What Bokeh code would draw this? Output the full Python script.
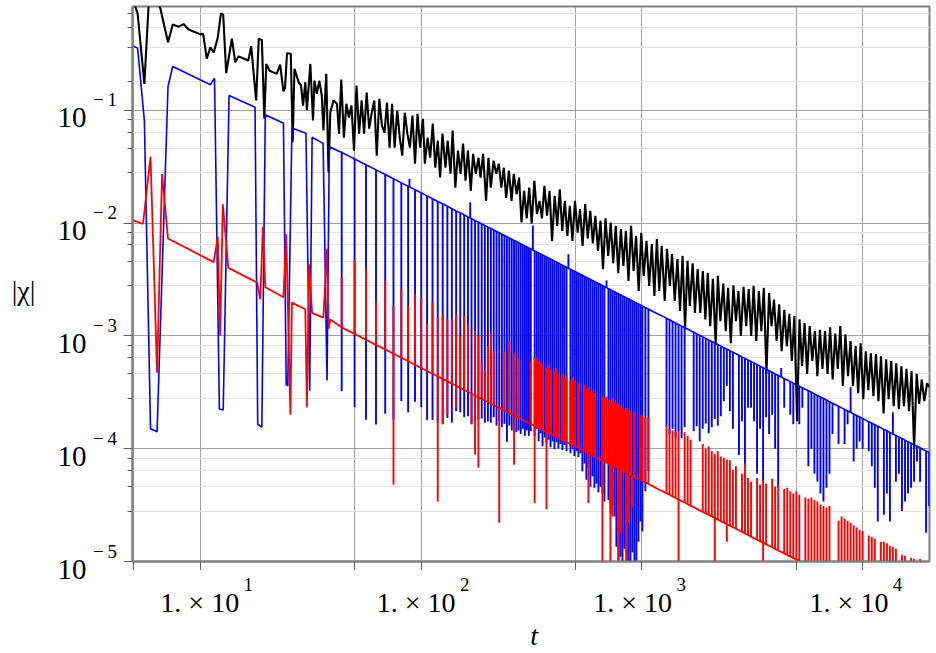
import math
from bokeh.plotting import figure
from bokeh.layouts import row, column
from bokeh.models import Range1d, FixedTicker, LogScale, CustomJSTickFormatter
from bokeh.core.properties import value
from bokeh.embed import file_html
from bokeh.resources import INLINE

# ---------------- data ----------------
# |chi| for the three runs against time t (log-log)

black_t = [
    4.95, 5.2, 5.58, 5.9, 6.25, 6.59, 7.14, 7.5, 7.98, 8.4,
    8.85, 9.5, 10.0, 10.3, 10.7, 11.1, 11.5, 12.0, 12.4, 12.7,
    13.1, 13.9, 14.4, 14.9, 16.5, 17.0, 17.9, 18.4, 19.0, 19.5,
    19.9, 20.6, 22.2, 23.0, 23.8, 24.2, 24.7, 25.7, 26.2, 26.7,
    27.9, 28.6, 29.2, 29.9, 30.4, 31.5, 32.4, 32.9, 33.7, 34.6,
    35.5, 36.1, 37.2, 38.1, 38.8, 40.1, 41.6, 42.5,
    43.5, 44.7, 45.9, 47.1, 48.4, 49.7, 51.0, 52.4, 53.8, 55.2,
    56.7, 58.2, 59.8, 61.4, 63.0, 64.7, 66.5, 68.3, 70.1, 72.0,
    73.9, 75.9, 78.0, 80.1, 82.2, 84.4, 86.7, 89.0, 91.4, 93.9,
    96.4, 99.0, 102, 104, 107, 110, 113, 116, 119, 122,
    125, 129, 132, 136, 139, 143, 147, 151, 155, 159,
    163, 168, 172, 177, 182, 186, 191, 197, 202, 207,
    213, 219, 225, 231, 237, 243, 250, 257, 263, 271,
    278, 285, 293, 301, 309, 317, 326, 335, 344, 353,
    362, 372, 382, 392, 403, 414, 425, 436, 448, 460,
    472, 485, 498, 512, 525, 539, 554, 569, 584, 600,
    616, 633, 650, 667, 685, 704, 723, 742, 762, 782,
    804, 825, 847, 870, 894, 918, 942, 968, 994, 1020,
    1050, 1080, 1110, 1140, 1170, 1200, 1230, 1270, 1300, 1340,
    1370, 1410, 1450, 1490, 1530, 1570, 1610, 1650, 1700, 1740,
    1790, 1840, 1890, 1940, 1990, 2040, 2100, 2160, 2210, 2270,
    2340, 2400, 2460, 2530, 2600, 2670, 2740, 2810, 2890, 2970,
    3050, 3130, 3210, 3300, 3390, 3480, 3570, 3670, 3770, 3870,
    3970, 4080, 4190, 4300, 4420, 4540, 4660, 4780, 4910, 5050,
    5180, 5320, 5460, 5610, 5760, 5920, 6080, 6240, 6410, 6580,
    6760, 6940, 7130, 7320, 7520, 7720, 7930, 8140, 8360, 8590,
    8820, 9050, 9300, 9550, 9800, 10070, 10340, 10620, 10900, 11200,
    11500, 11800, 12120, 12450, 12780, 13130, 13480, 13840, 14210, 14600,
    14990, 15390, 15810, 16230, 16670, 17120, 17580, 18050, 18540, 19040,
    19600, 20100,
]
black_v = [
    0.95, 0.72, 0.171, 1.3, 1.05, 0.8, 0.40, 0.575, 0.55, 0.58,
    0.52, 0.49, 0.47, 0.475, 0.286, 0.36, 0.325, 0.44, 0.72, 0.70,
    0.213, 0.43, 0.266, 0.30, 0.276, 0.37, 0.122, 0.43, 0.42, 0.084,
    0.257, 0.224, 0.21, 0.254, 0.147, 0.158, 0.32, 0.316, 0.052, 0.233,
    0.177, 0.165, 0.11, 0.177, 0.10, 0.257, 0.081, 0.183, 0.14, 0.183,
    0.135, 0.066, 0.21, 0.028, 0.096, 0.122, 0.114, 0.062,
    0.187, 0.057, 0.114, 0.086, 0.110, 0.0438, 0.165, 0.062, 0.122, 0.062,
    0.143, 0.0686, 0.095, 0.122, 0.0395, 0.126, 0.073, 0.0633, 0.117, 0.0466,
    0.114, 0.0466, 0.099, 0.057, 0.0395, 0.095, 0.062, 0.0466, 0.0896, 0.0336,
    0.093, 0.0466, 0.084, 0.0336, 0.057, 0.0379, 0.076, 0.0309, 0.0537, 0.0253,
    0.062, 0.0309, 0.0537, 0.0273, 0.0659, 0.0206, 0.0438, 0.0273, 0.0506, 0.0237,
    0.0438, 0.0193, 0.041, 0.0273, 0.0379, 0.0253, 0.041, 0.0157, 0.0379, 0.0206,
    0.0357, 0.0273, 0.0336, 0.0206, 0.0309, 0.0167, 0.0291, 0.0157, 0.0273, 0.018,
    0.0253, 0.0101, 0.0193, 0.011, 0.0206, 0.0099, 0.0237, 0.012, 0.0157, 0.011,
    0.0214, 0.0116, 0.0193, 0.00695, 0.0174, 0.00944, 0.0199, 0.00852, 0.0157, 0.00769,
    0.0142, 0.00695, 0.0157, 0.0082, 0.0133, 0.00627, 0.0147, 0.0073, 0.0128, 0.0066,
    0.0116, 0.00566, 0.0105, 0.0039, 0.011, 0.00511, 0.0101, 0.0044, 0.00944, 0.0036,
    0.00885, 0.00417, 0.00852, 0.00307, 0.00944, 0.00376, 0.00769, 0.0025, 0.0082, 0.0034,
    0.00695, 0.00277, 0.0065, 0.00226, 0.0072, 0.0025, 0.00627, 0.00204, 0.0059, 0.00277,
    0.0053, 0.00204, 0.0048, 0.00166, 0.00511, 0.00115, 0.00462, 0.00184, 0.0044, 0.0016,
    0.0039, 0.0016, 0.00376, 0.0014, 0.0036, 0.00122, 0.0032, 0.00083, 0.0034, 0.00135,
    0.0029, 0.0011, 0.00266, 0.00086, 0.0028, 0.00135, 0.0025, 0.001, 0.00272, 0.00122,
    0.0026, 0.001, 0.00277, 0.0009, 0.0025, 0.0011, 0.00266, 0.00046, 0.0024, 0.00122,
    0.0021, 0.0009, 0.0019, 0.00073, 0.0017, 0.00081, 0.00157, 0.0006, 0.0015, 0.000175,
    0.0014, 0.00054, 0.0013, 0.00046, 0.00122, 0.0006, 0.0011, 0.00044, 0.00113, 0.00051,
    0.0011, 0.00046, 0.00119, 0.00041, 0.00105, 0.00051, 0.00122, 0.00036, 0.00103, 0.00044,
    0.0009, 0.00036, 0.00081, 0.00031, 0.00086, 0.000275, 0.00073, 0.00033, 0.0007, 0.000292,
    0.00069, 0.000264, 0.00066, 0.000205, 0.00062, 0.000275, 0.000597, 0.000238, 0.00057, 0.000225,
    0.00054, 0.000238, 0.00051, 0.000215, 0.000487, 0.0001, 0.00046, 0.00025, 0.00041, 0.000264,
    0.00038, 0.00035,
]

# early part of the blue and red curves (wide dips / spikes)
blue_t0 = [4.95, 5.2, 5.58, 5.95, 6.37, 7.14, 7.5, 11.1, 11.6, 12.2,
           12.7, 13.5, 17.7, 18.2, 19.0, 19.7, 23.8, 24.5, 24.9, 26.0,
           30.1, 31.3, 32.1, 36.0, 37.5, 38.4, 42.7]
blue_v0 = [0.37, 0.355, 0.081, 1.5e-4, 1.41e-4, 0.162, 0.244, 0.168, 0.192, 2.25e-4,
           2.2e-4, 0.135, 0.106, 1.64e-4, 1.55e-4, 0.091, 0.0765, 3.7e-4, 3.6e-4, 0.0697,
           0.0624, 3.28e-4, 0.0575, 0.0508, 4.03e-4, 0.0475, 0.0431]
red_t0 = [4.95, 5.5, 5.95, 6.37, 6.71, 7.14, 11.5, 12.0, 12.3, 12.65,
          13.4, 18.1, 18.7, 19.2, 19.7, 23.8, 24.5, 25.6, 26.0, 29.9,
          30.4, 31.1, 32.1, 36.1, 37.5, 38.1, 38.8, 42.8]
red_v0 = [0.0106, 0.0098, 0.0387, 4.7e-4, 0.0272, 7.3e-3, 4.5e-3, 7.6e-3, 1.0e-3, 0.0147,
          4.0e-3, 2.96e-3, 2.1e-3, 9.2e-3, 2.7e-3, 2.2e-3, 8.0e-3, 2.0e-4, 1.97e-3, 1.72e-3,
          2.33e-4, 4.3e-3, 1.6e-3, 1.45e-3, 5.9e-3, 1.15e-3, 1.4e-3, 1.22e-3]

# later part: sample times, the smooth blue envelope / red baseline,
# and the narrow spike reached at each sample (None = no spike)
comb_t = [
    43.7, 50.0, 56.3, 62.5, 68.8, 75.0, 81.4, 87.4, 88.6, 93.9,
    100.2, 106.5, 112.7, 119.0, 125.3, 131.6, 137.9, 144.2, 150.5, 156.8,
    163.1, 167.0, 169.3, 175.6, 181.9, 188.2, 194.5, 200.8,
    207.1, 213.4, 219.7, 226.0, 232.3, 238.6, 244.9, 251.2, 257.5, 263.8,
    270.0, 276.4, 282.7, 289.0, 295.3, 301.6, 307.9,
    314, 321, 327, 334, 341, 348, 355, 363, 370, 378,
    386, 394, 402, 411, 419, 428, 437, 446, 456, 465,
    475, 485, 495, 506, 516, 527, 538, 550, 561, 573,
    585, 598, 610, 623, 636, 650, 663, 677, 692, 706,
    721, 736, 752, 767, 784, 800, 817, 834, 852, 870,
    888, 907, 926, 945, 965, 986, 1006,
    1038, 1071, 1105, 1141, 1177, 1215, 1254, 1294, 1335, 1378,
    1422, 1467, 1514, 1563, 1613, 1664, 1718, 1773, 1829, 1888,
    1948, 2010, 2075, 2141, 2209, 2280, 2353, 2428, 2506, 2586,
    2669, 2754, 2842, 2933, 3027, 3124, 3224, 3327, 3433, 3543,
    3656, 3773, 3894, 4018, 4147, 4279, 4416, 4558, 4703, 4854,
    5009, 5169, 5335, 5505, 5681, 5863, 6051, 6244, 6444, 6650,
    6863, 7082, 7309, 7543, 7784, 8033, 8290, 8556, 8829, 9112,
    9403, 9704, 10010, 10340, 10670, 11010, 11360, 11720, 12100, 12490,
    12890, 13300, 13720, 14160, 14620, 15080, 15570, 16060, 16580, 17110,
    17650, 18220, 18800, 19400, 20020,
]
blue_env = [
    0.0423, 0.037, 0.0329, 0.0296, 0.0269, 0.0247, 0.0227, 0.0212, 0.0209, 0.0197,
    0.0185, 0.0174, 0.0164, 0.0155, 0.0148, 0.0141, 0.0134, 0.0128, 0.0123, 0.0118,
    0.0113, 0.0111, 0.0109, 0.0105, 0.0102, 0.0098, 0.0095, 0.0092,
    0.00893, 0.00867, 0.00842, 0.00819, 0.00796, 0.00775, 0.00755, 0.00736, 0.00718, 0.00701,
    0.00685, 0.00669, 0.00654, 0.0064, 0.00626, 0.00613, 0.00601,
    0.00589, 0.00576, 0.00566, 0.00554, 0.00543, 0.00532, 0.00521, 0.0051, 0.005, 0.00489,
    0.00479, 0.0047, 0.0046, 0.0045, 0.00442, 0.00432, 0.00423, 0.00415, 0.00406, 0.00398,
    0.0039, 0.00381, 0.00374, 0.00366, 0.00359, 0.00351, 0.00344, 0.00336, 0.0033, 0.00323,
    0.00316, 0.00309, 0.00303, 0.00297, 0.00291, 0.00285, 0.00279, 0.00273, 0.00267, 0.00262,
    0.00257, 0.00251, 0.00246, 0.00241, 0.00236, 0.00231, 0.00226, 0.00222, 0.00217, 0.00213,
    0.00208, 0.00204, 0.002, 0.00196, 0.00192, 0.00188, 0.00184,
    0.00178, 0.00173, 0.00167, 0.00162, 0.00157, 0.00152, 0.00148, 0.00143, 0.00139, 0.00134,
    0.0013, 0.00126, 0.00122, 0.00118, 0.00115, 0.00111, 0.00108, 0.00104, 0.00101, 0.00098,
    0.00095, 0.00092, 0.00089, 0.000864, 0.000837, 0.000811, 0.000786, 0.000762, 0.000738, 0.000715,
    0.000693, 0.000672, 0.000651, 0.000631, 0.000611, 0.000592, 0.000574, 0.000556, 0.000539, 0.000522,
    0.000506, 0.00049, 0.000475, 0.00046, 0.000446, 0.000432, 0.000419, 0.000406, 0.000393, 0.000381,
    0.000369, 0.000358, 0.000347, 0.000336, 0.000326, 0.000316, 0.000306, 0.000296, 0.000287, 0.000278,
    0.00027, 0.000261, 0.000253, 0.000245, 0.000238, 0.00023, 0.000223, 0.000216, 0.00021, 0.000203,
    0.000197, 0.000191, 0.000185, 0.000179, 0.000173, 0.000168, 0.000163, 0.000158, 0.000153, 0.000148,
    0.000144, 0.000139, 0.000135, 0.000131, 0.000127, 0.000123, 0.000119, 0.000115, 0.000112, 0.000108,
    0.000105, 0.000102, 9.84e-5, 9.54e-5, 9.24e-5,
]
blue_tip = [
    3.24e-4, 2.33e-4, 1.8e-4, 1.64e-4, 2.04e-4, 1.81e-4, 2.64e-4, 2.1e-4, 0.0245, 2.6e-4,
    2.33e-4, 1.8e-4, 1.8e-4, 1.7e-4, 1.66e-4, 1.87e-4, 1.7e-4, 2.15e-4, 2.1e-4, 1.9e-4,
    1.94e-4, 0.0153, 1.66e-4, 1.75e-4, 1.81e-4, 1.85e-4, 1.7e-4, 1.75e-4,
    1.7e-4, 1.9e-4, 1.6e-4, 1.75e-4, 1.55e-4, 1.66e-4, 1.15e-4, 1.6e-4, 1.45e-4, 1.5e-4,
    1.4e-4, 1.45e-4, 1.35e-4, 1.5e-4, 1.3e-4, 1.45e-4, 1.3e-4,
    1.43e-4, 0.0095, 1.29e-4, 1.5e-4, 1.16e-4, 1.37e-4, 1.05e-4, 1.26e-4, 1.11e-4, 1.2e-4,
    1.03e-4, 1.16e-4, 9.9e-5, 1.14e-4, 1.0e-4, 1.1e-4, 9.7e-5, 1.08e-4, 9.5e-5, 0.0053,
    9.1e-5, 9.9e-5, 8.6e-5, 9.5e-5, 8.4e-5, 9.1e-5, 6.3e-5, 7.4e-5, 5.3e-5, 6.7e-5,
    4.6e-5, 5.7e-5, 4.5e-5, 4.9e-5, 4.1e-5, 4.6e-5, 4.0e-5, 3.4e-5, 0.0031, 3.5e-5,
    2.7e-5, 3.1e-5, 2.5e-5, 1.35e-5, 6.6e-6, 1.1e-5, 4.4e-6, 1.3e-5, 5.4e-6, 8.1e-6,
    4.4e-6, 1.2e-5, 6e-6, 1.0e-5, 1.5e-5, 2.26e-5, 1.84e-5,
    4.2e-5, 6.3e-5, None, None, None, None, None, 1.58e-4, 1.34e-4, 1.5e-4,
    1.26e-4, 1.43e-4, 1.24e-4, 1.55e-4, None, None, 1.43e-4, 1.58e-4, 1.16e-4, 1.5e-4,
    1.67e-4, 1.37e-4, 1.55e-4, 1.83e-4, 1.6e-4, 1.94e-4, 2.64e-4, 3.6e-4, 2.15e-4, 1.5e-4,
    None, 8.8e-5, 1.75e-4, 7e-5, 2.3e-4, 2.3e-4, 1.75e-4, 6e-5, 1.5e-4, 5.1e-5,
    1.9e-4, 1.35e-4, 2e-4, 1.0e-4, 4.5e-5, 5.2e-4, 2.3e-4, None, 2e-4, 1.65e-4,
    None, 1.65e-4, 2.3e-4, None, 7e-5, 1.0e-4, 6e-5, 5.1e-5, 4e-5, 3.4e-5,
    4.5e-5, 6e-5, 1.35e-4, None, 1.1e-4, None, 1.1e-4, 1.65e-4, 3.5e-4, 7.7e-5,
    1.0e-4, 1.16e-4, 1.0e-4, None, 9.5e-5, 7e-5, 4.5e-5, 2.26e-5, None, 2.6e-5,
    4e-5, 2.26e-5, 2.1e-4, 5.1e-5, 6e-5, 2.8e-5, 3.4e-5, 4e-5, 4.5e-5, 5.1e-5,
    7.7e-5, 5.1e-5, None, 1.8e-5, 3.1e-5,
]
red_base = [
    1.19e-3, 1.04e-3, 9.24e-4, 8.32e-4, 7.56e-4, 6.93e-4, 6.39e-4, 5.95e-4, 5.87e-4, 5.54e-4,
    5.19e-4, 4.88e-4, 4.61e-4, 4.37e-4, 4.15e-4, 3.95e-4, 3.77e-4, 3.61e-4, 3.46e-4, 3.32e-4,
    3.19e-4, 3.11e-4, 3.07e-4, 2.96e-4, 2.86e-4, 2.76e-4, 2.67e-4, 2.59e-4,
    2.51e-4, 2.44e-4, 2.37e-4, 2.3e-4, 2.24e-4, 2.18e-4, 2.12e-4, 2.07e-4, 2.02e-4, 1.97e-4,
    1.93e-4, 1.88e-4, 1.84e-4, 1.8e-4, 1.76e-4, 1.72e-4, 1.69e-4,
    1.66e-4, 1.62e-4, 1.59e-4, 1.56e-4, 1.52e-4, 1.49e-4, 1.46e-4, 1.43e-4, 1.41e-4, 1.38e-4,
    1.35e-4, 1.32e-4, 1.29e-4, 1.27e-4, 1.24e-4, 1.21e-4, 1.19e-4, 1.17e-4, 1.14e-4, 1.12e-4,
    1.09e-4, 1.07e-4, 1.05e-4, 1.03e-4, 1.01e-4, 9.87e-5, 9.67e-5, 9.45e-5, 9.27e-5, 9.08e-5,
    8.89e-5, 8.7e-5, 8.52e-5, 8.35e-5, 8.18e-5, 8.0e-5, 7.84e-5, 7.68e-5, 7.51e-5, 7.37e-5,
    7.21e-5, 7.07e-5, 6.91e-5, 6.78e-5, 6.63e-5, 6.5e-5, 6.36e-5, 6.24e-5, 6.1e-5, 5.98e-5,
    5.86e-5, 5.73e-5, 5.62e-5, 5.5e-5, 5.39e-5, 5.27e-5, 5.17e-5,
    5.01e-5, 4.86e-5, 4.71e-5, 4.56e-5, 4.42e-5, 4.28e-5, 4.15e-5, 4.02e-5, 3.9e-5, 3.77e-5,
    3.66e-5, 3.54e-5, 3.43e-5, 3.33e-5, 3.22e-5, 3.13e-5, 3.03e-5, 2.93e-5, 2.84e-5, 2.75e-5,
    2.67e-5, 2.59e-5, 2.51e-5, 2.43e-5, 2.35e-5, 2.28e-5, 2.21e-5, 2.14e-5, 2.08e-5, 2.01e-5,
    1.95e-5, 1.89e-5, 1.83e-5, 1.77e-5, 1.72e-5, 1.66e-5, 1.61e-5, 1.56e-5, 1.51e-5, 1.47e-5,
    1.42e-5, 1.38e-5, 1.34e-5, 1.29e-5, 1.25e-5, 1.22e-5, 1.18e-5, 1.14e-5, 1.11e-5, 1.07e-5,
    1.04e-5, 1.01e-5, 9.75e-6, 9.45e-6, 9.15e-6, 8.87e-6, 8.59e-6, 8.33e-6, 8.07e-6, 7.82e-6,
    7.58e-6, 7.34e-6, 7.11e-6, 6.89e-6, 6.68e-6, 6.47e-6, 6.27e-6, 6.08e-6, 5.89e-6, 5.71e-6,
    5.53e-6, 5.36e-6, 5.19e-6, 5.03e-6, 4.87e-6, 4.72e-6, 4.58e-6, 4.44e-6, 4.3e-6, 4.16e-6,
    4.03e-6, 3.91e-6, 3.79e-6, 3.67e-6, 3.56e-6, 3.45e-6, 3.34e-6, 3.24e-6, 3.14e-6, 3.04e-6,
    2.95e-6, 2.85e-6, 2.77e-6, 2.68e-6, 2.6e-6,
]
red_up = [
    3.3e-3, 4.7e-3, 4.0e-3, 2.0e-3, 3.07e-3, 1.84e-3, 2.6e-3, 1.84e-3, None, 2.36e-3,
    2.2e-3, 1.27e-3, 1.97e-3, 1.45e-3, 1.55e-3, 1.4e-3, 1.4e-3, 1.55e-3, 1.0e-3, 1.5e-3,
    1.27e-3, None, None, 1.1e-3, 1.0e-3, 6e-4, 4.9e-4, 8.1e-4,
    1.07e-3, 7.3e-4, None, None, None, 7.3e-4, None, 9e-4, None, 7.1e-4,
    None, 6.4e-4, None, None, None, None, None,
    6.0e-4, None, 6.4e-4, 6.4e-4, 6.0e-4, 5.8e-4, 5.5e-4, None, 5.2e-4, 5.5e-4,
    5.0e-4, None, 4.8e-4, 5.2e-4, 4.5e-4, None, 4.6e-4, 4.2e-4, 4.4e-4, None,
    4.0e-4, 4.3e-4, 4.0e-4, None, 3.8e-4, None, None, 3.7e-4, 3.4e-4, 3.5e-4,
    3.2e-4, 3.3e-4, 3.1e-4, None, None, None, 2.9e-4, 2.8e-4, 2.9e-4, 2.7e-4,
    2.6e-4, 2.8e-4, 2.6e-4, 2.5e-4, 2.5e-4, 2.4e-4, 2.3e-4, 2.2e-4, 2.3e-4, 2.2e-4,
    2.15e-4, None, 2.1e-4, None, None, 2.0e-4, 1.95e-4,
    1.9e-4, 1.9e-4, None, None, None, None, None, 1.6e-4, 1.5e-4, 1.45e-4,
    1.4e-4, 1.45e-4, None, 1.4e-4, 1.3e-4, 1.2e-4, None, None, None, 1.1e-4,
    1.0e-4, 1.05e-4, 9.5e-5, 9.0e-5, 9.5e-5, 8.5e-5, 8.3e-5, 8.0e-5, 7.9e-5, 6.5e-5,
    7.0e-5, None, 6.0e-5, 7.4e-5, 5.5e-5, 5.1e-5, None, 5.5e-5, 4.8e-5, 5.3e-5,
    4.9e-5, None, 5.4e-5, 4.6e-5, 4.8e-5, None, 4.4e-5, 4.5e-5, 4.2e-5, 4.0e-5,
    4.2e-5, 3.9e-5, None, 3.7e-5, 3.6e-5, 3.7e-5, 3.5e-5, 3.4e-5, 3.2e-5, 3.1e-5,
    3.0e-5, 3.1e-5, None, None, 2.3e-5, 2.5e-5, 2.4e-5, 2.3e-5, 2.2e-5, 2.1e-5,
    2.0e-5, 1.9e-5, 1.85e-5, None, 1.7e-5, 1.66e-5, 1.6e-5, None, 1.5e-5, 1.5e-5,
    1.45e-5, 1.38e-5, 1.35e-5, 1.3e-5, None, 1.15e-5, 1.12e-5, None, 1.08e-5, 1.06e-5,
    None, 1.05e-5, None, None, None,
]
red_down = [
    None, None, None, None, None, 4.8e-5, None, None, None, None,
    None, None, None, 3.4e-5, 1.64e-4, 2e-4, None, 2.3e-4, None, None,
    None, None, 1.64e-4, 8.9e-5, 6.8e-5, None, None, None,
    None, None, None, 2.2e-5, None, None, None, None, None, 7.2e-5,
    None, None, None, None, None, None, None,
    None, None, 3.3e-5, None, None, None, None, None, 2.9e-5, None,
    None, None, None, None, None, None, None, None, None, None,
    None, None, None, None, None, None, None, None, None, 3.3e-5,
    None, None, None, None, None, None, 7e-6, None, None, None,
    6e-6, 2.5e-5, None, None, 6e-6, 1.8e-5, None, None, 6e-6, 2.2e-5,
    None, 3e-5, None, None, None, None, None,
    None, None, None, None, None, None, None, None, None, None,
    None, 6e-6, None, None, None, None, None, None, None, None,
    None, None, None, 6e-6, None, None, None, 1.5e-5, None, None,
    None, None, None, None, None, None, None, None, None, 6e-6,
    None, None, None, None, None, None, None, None, None, None,
    None, None, None, None, None, None, None, None, None, None,
    None, None, None, None, None, None, None, None, None, None,
    None, None, None, None, None, None, None, None, None, None,
    None, None, None, None, None, None, None, None, None, None,
    None, None, None, None, None,
]

assert len(black_t) == len(black_v)
assert len(blue_t0) == len(blue_v0) and len(red_t0) == len(red_v0)
for arr in (blue_env, blue_tip, red_base, red_up, red_down):
    assert len(arr) == len(comb_t), (len(arr), len(comb_t))

# axis ticks and labels
x_ticks = [5, 10, 50, 100, 500, 1000, 5000, 10000]
x_label_ticks = [10, 100, 1000, 10000]
x_label_main = ["1. \u00d7 10"] * 4
x_label_exp = ["1", "2", "3", "4"]
y_ticks = [1e-5, 1e-4, 1e-3, 1e-2, 1e-1]
y_label_main = ["10"] * 5
y_label_exp = ["\u2212\u20095", "\u2212\u20094", "\u2212\u20093", "\u2212\u20092", "\u2212\u20091"]
y_minor = [2.8e-5, 4.6e-5, 6.4e-5, 8.2e-5,
           2.8e-4, 4.6e-4, 6.4e-4, 8.2e-4,
           2.8e-3, 4.6e-3, 6.4e-3, 8.2e-3,
           0.028, 0.046, 0.064, 0.082,
           0.18, 0.36, 0.54, 0.72]
x_title, x_title_at = "t", 322
y_title, y_title_at = "|\u03c7|", 2.5e-3

X0, X1 = 4.93, 20100
Y0, Y1 = 1e-5, 0.83
SERIF = "Liberation Serif"

# ---------------- page geometry (pixels) ----------------
W, H = 936, 653
FRAME_L, FRAME_R, FRAME_T, FRAME_B = 132, 929, 6, 561
TICK = 9
LEFT_W = FRAME_L - TICK          # strip holding the y tick labels
MAIN_W = W - LEFT_W
MAIN_H = FRAME_B + TICK
BOT_H = H - MAIN_H               # strip holding the x tick labels
kx = (FRAME_R - FRAME_L) / (math.log10(X1) - math.log10(X0))   # px per decade
ky = (FRAME_B - FRAME_T) / (math.log10(Y1) - math.log10(Y0))


def strip(width, height, **kw):
    f = figure(width=width, height=height, min_border=0, title=None,
               toolbar_location=None, output_backend="svg",
               x_axis_location=None, y_axis_location=None, **kw)
    f.outline_line_color = None
    f.background_fill_color = "white"
    f.border_fill_color = "white"
    for g in f.grid:
        g.visible = False
    return f


# ---------------- main plot ----------------
p = figure(width=MAIN_W, height=MAIN_H, x_axis_type="log", y_axis_type="log",
           x_range=Range1d(X0, X1), y_range=Range1d(Y0, Y1),
           output_backend="svg", toolbar_location=None, title=None,
           min_border_left=TICK, min_border_right=W - FRAME_R,
           min_border_top=FRAME_T, min_border_bottom=TICK)
p.background_fill_color = "white"
p.border_fill_color = "white"
p.outline_line_color = "#808080"
p.outline_line_width = 2

p.xaxis.ticker = FixedTicker(ticks=x_ticks, minor_ticks=[])
p.yaxis.ticker = FixedTicker(ticks=y_ticks, minor_ticks=y_minor)
for ax in (p.xaxis[0], p.yaxis[0]):
    ax.formatter = CustomJSTickFormatter(code="return ''")
    ax.major_label_text_font_size = "0px"
    ax.major_label_standoff = 0
    ax.axis_line_color = "#808080"
    ax.axis_line_width = 2
    ax.major_tick_line_color = "#606060"
    ax.major_tick_line_width = 1
    ax.major_tick_in = 0
    ax.major_tick_out = TICK
    ax.minor_tick_line_color = "#606060"
    ax.minor_tick_in = 0
    ax.minor_tick_out = 5

p.xgrid.grid_line_color = "#a0a0a0"
p.ygrid.grid_line_color = "#a0a0a0"
p.ygrid.minor_grid_line_color = "#e2e2e2"

p.line(black_t, black_v, line_color="black", line_width=2.1)

p.line(blue_t0 + comb_t, blue_v0 + blue_env, line_color="blue", line_width=1.6)
bx = [t for t, s in zip(comb_t, blue_tip) if s is not None]
by0 = [e for e, s in zip(blue_env, blue_tip) if s is not None]
by1 = [s for s in blue_tip if s is not None]
p.segment(x0=bx, y0=by0, x1=bx, y1=by1, line_color="blue", line_width=1.9)

p.line(red_t0 + comb_t, red_v0 + red_base, line_color="red", line_width=1.8)
for tips in (red_up, red_down):
    rx = [t for t, s in zip(comb_t, tips) if s is not None]
    ry0 = [b for b, s in zip(red_base, tips) if s is not None]
    ry1 = [s for s in tips if s is not None]
    p.segment(x0=rx, y0=ry0, x1=rx, y1=ry1, line_color="red", line_width=1.9)

# ---------------- y tick labels and title (left strip) ----------------
left = strip(LEFT_W, H, x_range=Range1d(0, LEFT_W),
             y_range=Range1d(Y0 / 10 ** ((H - FRAME_B) / ky), Y1 * 10 ** (FRAME_T / ky)))
left.y_scale = LogScale()
left.text(x=[86] * len(y_ticks), y=[v / 10 ** (7.5 / ky) for v in y_ticks],
          text=y_label_main, text_align="right", text_baseline="middle",
          text_font=value(SERIF), text_font_size="29px", text_color="black")
left.text(x=[92.5] * len(y_ticks), y=[v * 10 ** (10.5 / ky) for v in y_ticks],
          text=y_label_exp, text_align="left", text_baseline="middle",
          text_font=value(SERIF), text_font_size="19px", text_color="black")
left.text(x=[23], y=[y_title_at], text=[y_title], text_align="center",
          text_baseline="middle", text_font=value(SERIF), text_font_size="28px",
          text_color="black")

# ---------------- x tick labels and title (bottom strip) ----------------
bottom = strip(MAIN_W, BOT_H,
               x_range=Range1d(X0 / 10 ** (TICK / kx), X1 * 10 ** ((W - FRAME_R) / kx)),
               y_range=Range1d(BOT_H, 0))
bottom.x_scale = LogScale()
bottom.text(x=[v * 10 ** (32 / kx) for v in x_label_ticks], y=[601.5 - MAIN_H] * 4,
            text=x_label_main, text_align="right", text_baseline="middle",
            text_font=value(SERIF), text_font_size="28px", text_color="black")
bottom.text(x=[v * 10 ** (36.5 / kx) for v in x_label_ticks], y=[584 - MAIN_H] * 4,
            text=x_label_exp, text_align="left", text_baseline="middle",
            text_font=value(SERIF), text_font_size="19px", text_color="black")
bottom.text(x=[x_title_at], y=[635 - MAIN_H], text=[x_title], text_align="center",
            text_baseline="middle", text_font=value(SERIF), text_font_style="italic",
            text_font_size="28px", text_color="black")

page = row(left, column(p, bottom, spacing=0), spacing=0)
open("out.html", "w").write(file_html(page, INLINE))
